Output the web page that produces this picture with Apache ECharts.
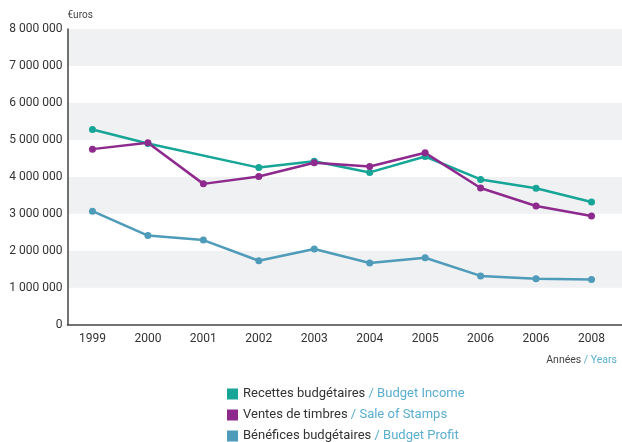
<!DOCTYPE html>
<html>
<head>
<meta charset="utf-8">
<script src="https://cdn.jsdelivr.net/npm/echarts@6/dist/echarts.min.js"></script>
<style>html,body{margin:0;padding:0;background:#fff}#c{width:622px;height:442px}</style>
</head>
<body>
<div id="c"></div>
<script>
var categories = ['1999','2000','2001','2002','2003','2004','2005','2006','2006','2008'];
var recettes = [5280000, 4900000, null, 4250000, 4420000, 4120000, 4550000, 3930000, 3690000, 3320000];
var ventes   = [4750000, 4920000, 3810000, 4010000, 4380000, 4280000, 4650000, 3700000, 3210000, 2940000];
var benefices= [3070000, 2410000, 2290000, 1730000, 2050000, 1670000, 1810000, 1320000, 1240000, 1220000];
var seriesNamesFr = ['Recettes budgétaires', 'Ventes de timbres', 'Bénéfices budgétaires'];
var seriesNamesEn = ['Budget Income', 'Sale of Stamps', 'Budget Profit'];

var colors = ['#17a597', '#8e2a8d', '#4e9bba'];
var font = 'Roboto';

function fmtNum(v){
  return String(v).replace(/\B(?=(\d{3})+(?!\d))/g, ' ');
}
function pairs(arr){
  return arr.map(function(v,i){ return [i, v]; });
}
var idx = categories.map(function(c,i){ return i; });
var dataSets = [recettes, ventes, benefices];

var chart = echarts.init(document.getElementById('c'));
chart.setOption({
  animation: false,
  color: colors,
  textStyle: {fontFamily: font},
  grid: {left: 67.5, right: 0, top: 29, bottom: 117.3, containLabel: false},
  title: {
    text: '{a|Années }{b|/ Years}',
    right: 0, top: 350,
    textStyle: {
      fontWeight: 'normal',
      rich: {
        a: {fontFamily: font, fontSize: 10.5, color: '#444', fontWeight: 'normal'},
        b: {fontFamily: font, fontSize: 10.5, color: '#5aaed0', fontWeight: 'normal'}
      }
    }
  },
  legend: {
    orient: 'vertical',
    left: 222, top: 382.5, height: 100,
    itemWidth: 11, itemHeight: 11,
    itemGap: 8,
    icon: 'rect',
    data: seriesNamesFr,
    formatter: function(name){
      var i = seriesNamesFr.indexOf(name);
      return '{a|' + name + ' }{b|/ ' + seriesNamesEn[i] + '}';
    },
    textStyle: {
      rich: {
        a: {fontFamily: font, fontSize: 13, color: '#333', lineHeight: 13},
        b: {fontFamily: font, fontSize: 13, color: '#5aaed0', lineHeight: 13}
      }
    }
  },
  xAxis: {
    type: 'value',
    min: -0.45, max: 9.55,
    splitLine: {show: false},
    axisLine: {show: true, onZero: false, lineStyle: {color: '#444', width: 1.5}},
    axisTick: {show: false},
    axisLabel: {
      customValues: idx,
      formatter: function(v){ return categories[Math.round(v)]; },
      color: '#333', fontSize: 12, fontFamily: font, margin: 8
    }
  },
  yAxis: {
    type: 'value',
    min: 0, max: 8000000, interval: 1000000,
    name: '€uros',
    nameLocation: 'end',
    nameGap: 9,
    nameTextStyle: {align: 'left', fontSize: 10, color: '#444', fontFamily: font},
    axisLine: {show: true, onZero: false, lineStyle: {color: '#444', width: 1.5}},
    axisTick: {show: false},
    splitLine: {show: false},
    splitArea: {show: true, areaStyle: {color: ['#ffffff', '#f0f1f3']}},
    axisLabel: {
      formatter: function(v){ return fmtNum(v); },
      color: '#333', fontSize: 12, fontFamily: font, margin: 5
    }
  },
  series: dataSets.map(function(d, i){
    return {
      name: seriesNamesFr[i],
      type: 'line',
      data: pairs(d),
      connectNulls: true,
      symbol: 'circle',
      symbolSize: 7,
      lineStyle: {width: 2.5, color: colors[i]},
      itemStyle: {color: colors[i]}
    };
  })
});
</script>
</body>
</html>
